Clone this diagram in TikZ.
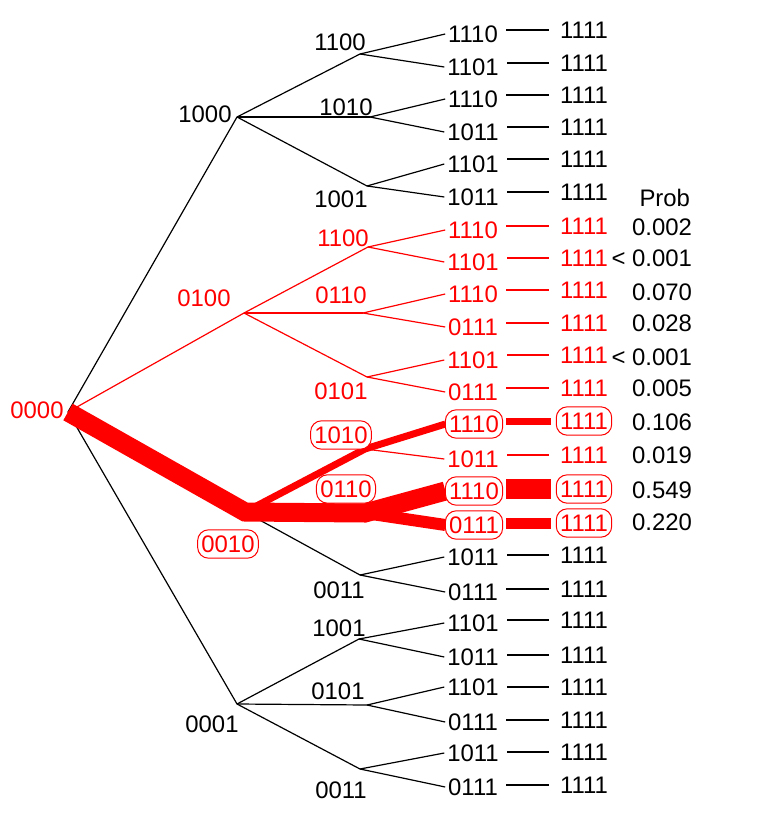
\documentclass[tikz,border=0pt]{standalone}
\usepackage{fontspec}
\setmainfont{Liberation Sans}
\pgfdeclarelayer{bg}
\pgfsetlayers{bg,main}
\tikzset{
  lbl/.style={font=\fontsize{24}{28}\selectfont, text height=17.2bp, text depth=0pt, inner xsep=3bp, inner ysep=5bp, outer sep=0pt},
  blk/.style={lbl, text=black},
  rd/.style={lbl, text=red},
  rbox/.style={lbl, text=red, draw=red, line width=1bp, fill=white, rounded corners=11bp, inner xsep=3.8bp, inner ysep=5.6bp},
  bl/.style={draw=black, line width=1.2bp},
  rl/.style={draw=red, line width=1.2bp},
  fat/.style={draw=red, line width=#1, line cap=butt, line join=miter},
  dsh/.style={shorten <=5.3bp, shorten >=8.3bp},
  bdsh/.style={shorten <=3.5bp, shorten >=5.5bp}
}
\begin{document}
\begin{tikzpicture}[x=1bp, y=-1bp]
\useasboundingbox (0,0) rectangle (774,820);
% junctions
\coordinate (j0000) at (68,412);
\coordinate (j1000) at (237,117);
\coordinate (j1100a) at (360,54);
\coordinate (j1010a) at (370,117);
\coordinate (j1001a) at (367,186);
\coordinate (j0100) at (244,313);
\coordinate (j1100b) at (368,247);
\coordinate (j0110a) at (363,313);
\coordinate (j0101a) at (367,377);
\coordinate (j0010) at (245,512);
\coordinate (j1010b) at (365,449);
\coordinate (j0110b) at (365,513);
\coordinate (j0011a) at (360,575);
\coordinate (j0001) at (237,704);
\coordinate (j1001b) at (359,639);
\coordinate (j0101b) at (367,705);
\coordinate (j0011b) at (360,769);
% inner labels
\node[rd] (n0000) at (37,410) {0000};
\node[blk] (n1000) at (205,114) {1000};
\node[blk] (n1100a) at (340,42) {1100};
\node[blk] (n1010a) at (346,107) {1010};
\node[blk] (n1001a) at (341,199) {1001};
\node[rd] (n0100) at (204,298) {0100};
\node[rd] (n1100b) at (343,238) {1100};
\node[rd] (n0110a) at (341,295) {0110};
\node[rd] (n0101a) at (341,391) {0101};
\node[rbox] (n1010b) at (341,435) {1010};
\node[rbox] (n0110b) at (346,489) {0110};
\node[rbox] (n0010) at (228,544) {0010};
\node[blk] (n0011a) at (339,590) {0011};
\node[blk] (n0001) at (212,724) {0001};
\node[blk] (n1001b) at (339,628) {1001};
\node[blk] (n0101b) at (338,691) {0101};
\node[blk] (n0011b) at (341,790) {0011};
% leaves
\node[blk] (L1) at (473,34) {1110};
\node[blk] (L2) at (473,67) {1101};
\node[blk] (L3) at (473,99) {1110};
\node[blk] (L4) at (473,132) {1011};
\node[blk] (L5) at (473,164) {1101};
\node[blk] (L6) at (473,197) {1011};
\node[rd] (L7) at (473,230) {1110};
\node[rd] (L8) at (473,262) {1101};
\node[rd] (L9) at (473,294) {1110};
\node[rd] (L10) at (473,327) {0111};
\node[rd] (L11) at (473,360) {1101};
\node[rd] (L12) at (473,392) {0111};
\node[rbox] (L13) at (474,424) {1110};
\node[rd] (L14) at (473,459) {1011};
\node[rbox] (L15) at (474,491) {1110};
\node[rbox] (L16) at (474,525) {0111};
\node[blk] (L17) at (473,557) {1011};
\node[blk] (L18) at (473,592) {0111};
\node[blk] (L19) at (473,623) {1101};
\node[blk] (L20) at (473,657) {1011};
\node[blk] (L21) at (473,687) {1101};
\node[blk] (L22) at (473,722) {0111};
\node[blk] (L23) at (473,753) {1011};
\node[blk] (L24) at (473,787) {0111};
% final states
\node[blk] (R1) at (584,30) {1111};
\node[blk] (R2) at (584,63) {1111};
\node[blk] (R3) at (584,95) {1111};
\node[blk] (R4) at (584,127) {1111};
\node[blk] (R5) at (584,159) {1111};
\node[blk] (R6) at (584,192) {1111};
\node[rd] (R7) at (584,226) {1111};
\node[rd] (R8) at (584,258) {1111};
\node[rd] (R9) at (584,290) {1111};
\node[rd] (R10) at (584,323) {1111};
\node[rd] (R11) at (584,355) {1111};
\node[rd] (R12) at (584,388) {1111};
\node[rbox] (R13) at (584,421) {1111};
\node[rd] (R14) at (584,455) {1111};
\node[rbox] (R15) at (584,489) {1111};
\node[rbox] (R16) at (584,523) {1111};
\node[blk] (R17) at (584,555) {1111};
\node[blk] (R18) at (584,589) {1111};
\node[blk] (R19) at (584,620) {1111};
\node[blk] (R20) at (584,655) {1111};
\node[blk] (R21) at (584,687) {1111};
\node[blk] (R22) at (584,720) {1111};
\node[blk] (R23) at (584,752) {1111};
\node[blk] (R24) at (584,785) {1111};
% probabilities
\node[blk, anchor=east] (prob) at (693,198) {Prob};
\node[blk, anchor=east] (p7) at (695,227) {0.002};
\node[blk, anchor=east] (p8) at (695,258) {< 0.001};
\node[blk, anchor=east] (p9) at (695,292) {0.070};
\node[blk, anchor=east] (p10) at (695,323) {0.028};
\node[blk, anchor=east] (p11) at (695,357) {< 0.001};
\node[blk, anchor=east] (p12) at (695,388) {0.005};
\node[blk, anchor=east] (p13) at (695,422) {0.106};
\node[blk, anchor=east] (p14) at (695,455) {0.019};
\node[blk, anchor=east] (p15) at (695,490) {0.549};
\node[blk, anchor=east] (p16) at (695,522) {0.220};
\begin{pgfonlayer}{bg}
\fill[white] (0,0) rectangle (774,820);
% level 1 (thin first, thick on top)
\draw[bl] (j0000) -- (j1000);
\draw[rl] (j0000) -- (j0100);
\draw[bl] (j0000) -- (j0001);
\draw[bl] (j0010) -- (j0011a);
\draw[fat=19bp] (j0000) -- (j0010) -- (j0110b) -- (L15.west);
% 1000 subtree
\draw[bl] (j1000) -- (j1100a);
\draw[bl] (j1000) -- (j1010a);
\draw[bl] (j1000) -- (j1001a);
\draw[bl] (j1100a) -- (L1.west);
\draw[bl] (j1100a) -- (L2.west);
\draw[bl] (j1010a) -- (L3.west);
\draw[bl] (j1010a) -- (L4.west);
\draw[bl] (j1001a) -- (L5.west);
\draw[bl] (j1001a) -- (L6.west);
% 0100 subtree
\draw[rl] (j0100) -- (j1100b);
\draw[rl] (j0100) -- (j0110a);
\draw[rl] (j0100) -- (j0101a);
\draw[rl] (j1100b) -- (L7.west);
\draw[rl] (j1100b) -- (L8.west);
\draw[rl] (j0110a) -- (L9.west);
\draw[rl] (j0110a) -- (L10.west);
\draw[rl] (j0101a) -- (L11.west);
\draw[rl] (j0101a) -- (L12.west);
% 0010 subtree
\draw[fat=7bp] (j0010) -- (j1010b) -- (L13.west);
\draw[rl] (j1010b) -- (L14.west);
\draw[fat=12bp] (j0110b) -- (L16.west);
\draw[bl] (j0011a) -- (L17.west);
\draw[bl] (j0011a) -- (L18.west);
% 0001 subtree
\draw[bl] (j0001) -- (j1001b);
\draw[bl] (j0001) -- (j0101b);
\draw[bl] (j0001) -- (j0011b);
\draw[bl] (j1001b) -- (L19.west);
\draw[bl] (j1001b) -- (L20.west);
\draw[bl] (j0101b) -- (L21.west);
\draw[bl] (j0101b) -- (L22.west);
\draw[bl] (j0011b) -- (L23.west);
\draw[bl] (j0011b) -- (L24.west);
% final step
\draw[bl, dsh] (R1.west -| L1.east) -- (R1.west);
\draw[bl, dsh] (R2.west -| L2.east) -- (R2.west);
\draw[bl, dsh] (R3.west -| L3.east) -- (R3.west);
\draw[bl, dsh] (R4.west -| L4.east) -- (R4.west);
\draw[bl, dsh] (R5.west -| L5.east) -- (R5.west);
\draw[bl, dsh] (R6.west -| L6.east) -- (R6.west);
\draw[rl, dsh] (R7.west -| L7.east) -- (R7.west);
\draw[rl, dsh] (R8.west -| L8.east) -- (R8.west);
\draw[rl, dsh] (R9.west -| L9.east) -- (R9.west);
\draw[rl, dsh] (R10.west -| L10.east) -- (R10.west);
\draw[rl, dsh] (R11.west -| L11.east) -- (R11.west);
\draw[rl, dsh] (R12.west -| L12.east) -- (R12.west);
\draw[fat=7bp, bdsh] (R13.west -| L13.east) -- (R13.west);
\draw[rl, dsh] (R14.west -| L14.east) -- (R14.west);
\draw[fat=20bp, bdsh] (R15.west -| L15.east) -- (R15.west);
\draw[fat=11bp, bdsh] (R16.west -| L16.east) -- (R16.west);
\draw[bl, dsh] (R17.west -| L17.east) -- (R17.west);
\draw[bl, dsh] (R18.west -| L18.east) -- (R18.west);
\draw[bl, dsh] (R19.west -| L19.east) -- (R19.west);
\draw[bl, dsh] (R20.west -| L20.east) -- (R20.west);
\draw[bl, dsh] (R21.west -| L21.east) -- (R21.west);
\draw[bl, dsh] (R22.west -| L22.east) -- (R22.west);
\draw[bl, dsh] (R23.west -| L23.east) -- (R23.west);
\draw[bl, dsh] (R24.west -| L24.east) -- (R24.west);
\end{pgfonlayer}
\end{tikzpicture}
\end{document}
